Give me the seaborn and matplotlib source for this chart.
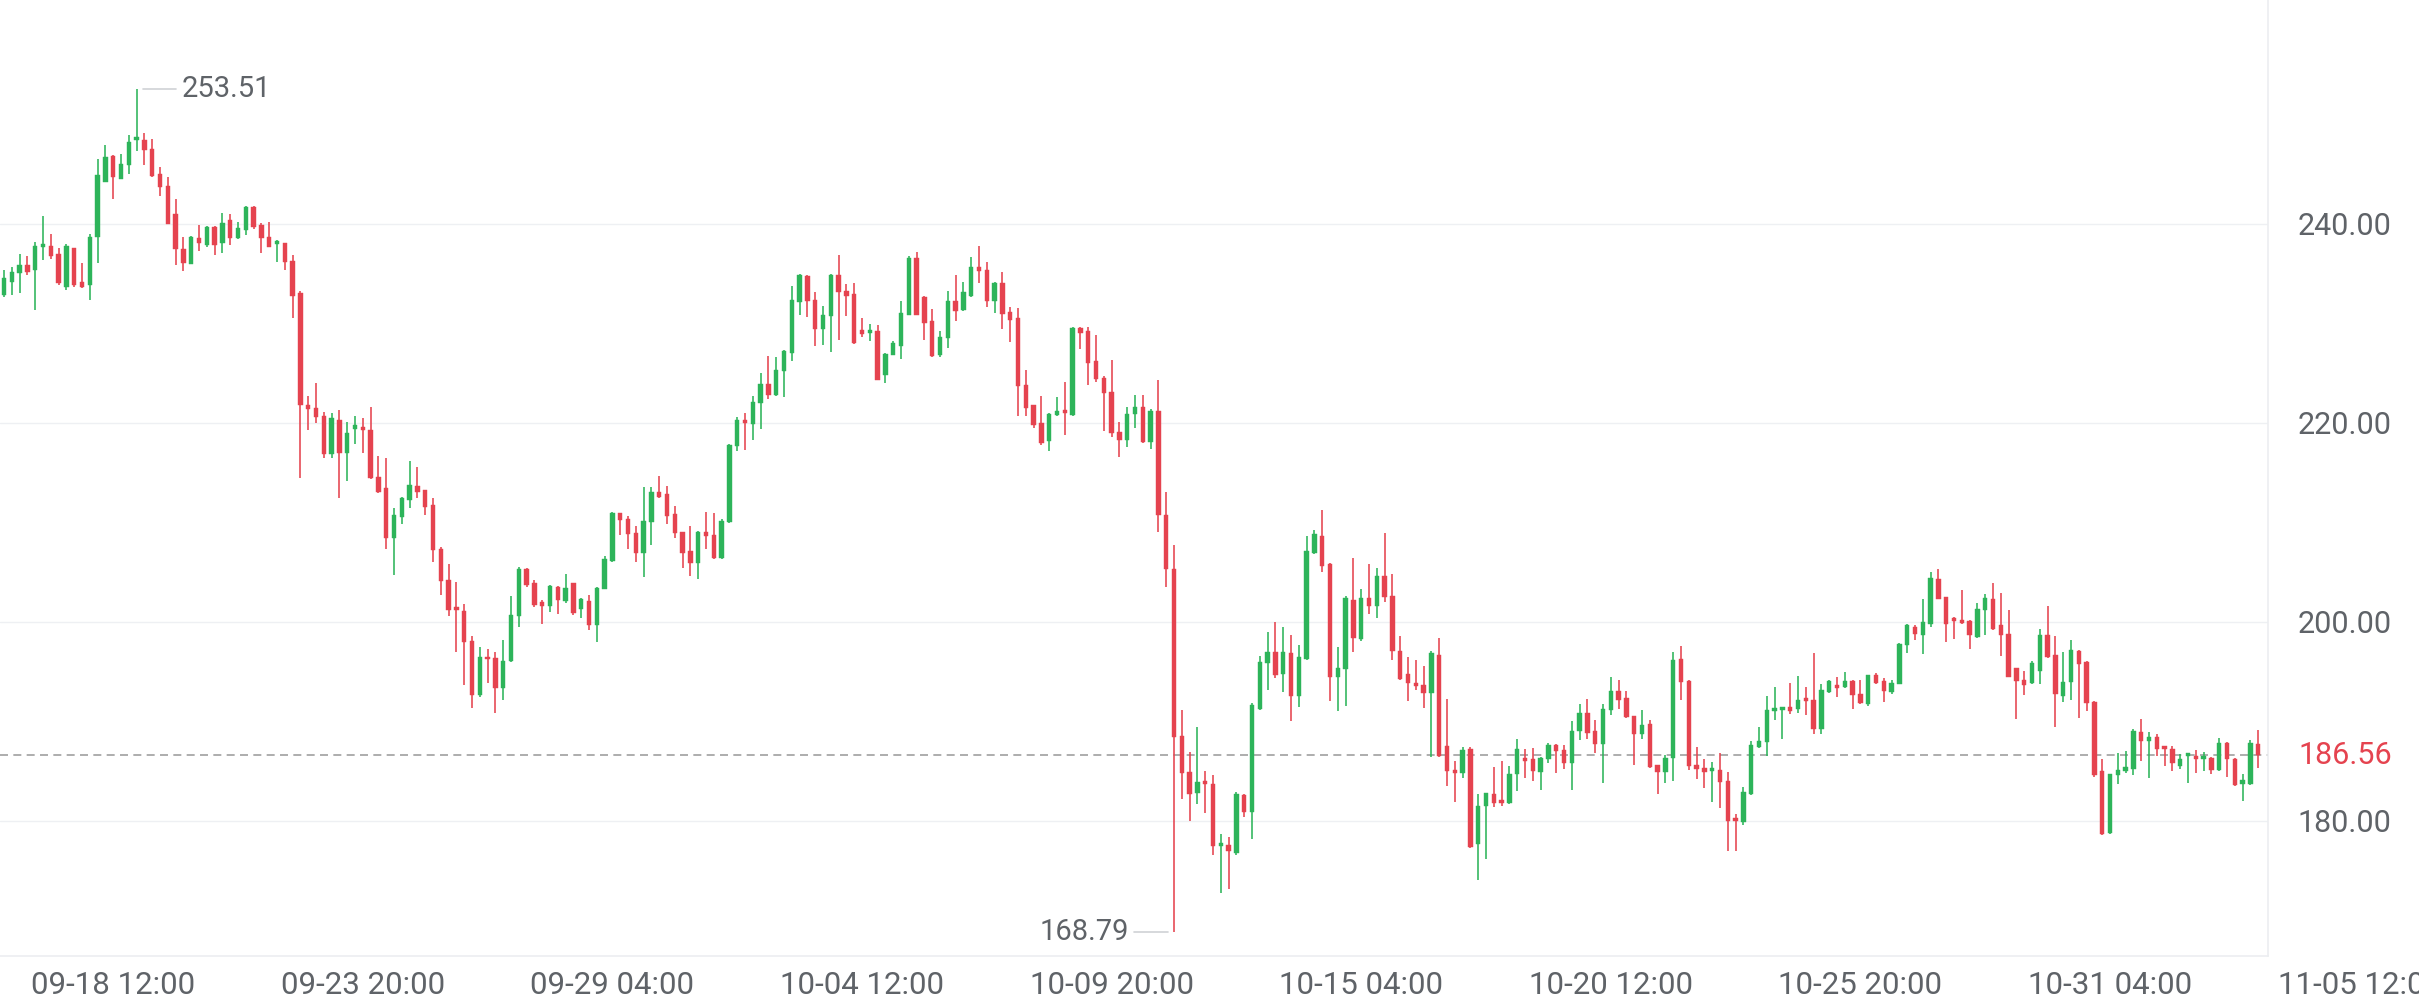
import numpy as np
import pandas as pd
import matplotlib
matplotlib.use("Agg")
import matplotlib.pyplot as plt
import seaborn as sns

# ---------------- data (4h candles) ----------------
start_time = "2024-09-16 04:00"

open_ = [
    232.8, 234.1, 235.0, 235.8, 235.3, 237.7, 237.8, 237.0, 233.6, 237.6,
    234.1, 233.8, 238.7, 244.2, 246.8, 244.5, 245.9, 248.4, 248.4, 247.5,
    245.0, 243.8, 241.0, 237.5, 235.9, 238.6, 237.9, 239.7, 238.1, 240.4,
    238.6, 239.4, 241.7, 239.9, 238.7, 238.0, 238.1, 236.2, 233.0, 221.8,
    221.5, 220.7, 216.9, 220.3, 217.0, 219.4, 219.4, 219.3, 214.5, 213.4,
    208.4, 210.5, 212.2, 213.6, 213.2, 211.7, 207.3, 204.2, 201.3, 201.1,
    198.1, 192.6, 196.5, 196.3, 193.3, 196.0, 200.6, 205.3, 203.9, 202.0,
    201.6, 203.5, 202.1, 203.9, 201.3, 202.1, 199.7, 203.3, 206.1, 210.9,
    210.3, 208.9, 206.9, 210.0, 213.0, 212.8, 210.8, 209.0, 207.1, 205.9,
    209.0, 208.7, 206.4, 210.0, 217.7, 220.3, 219.9, 222.0, 223.9, 222.8,
    225.2, 227.0, 232.1, 234.7, 232.3, 229.4, 230.7, 234.8, 233.2, 232.9,
    229.3, 229.0, 229.2, 224.8, 226.8, 227.7, 230.8, 236.6, 232.6, 230.2,
    226.8, 228.5, 232.2, 231.3, 232.7, 235.6, 235.3, 232.2, 234.0, 231.1,
    230.5, 223.8, 221.8, 220.0, 218.2, 220.8, 221.2, 220.8, 229.5, 229.2,
    226.2, 224.5, 223.1, 219.1, 218.3, 220.9, 221.6, 218.1, 221.2, 210.7,
    205.3, 188.5, 184.9, 182.8, 184.0, 183.7, 177.5, 177.6, 176.8, 182.6,
    180.9, 191.2, 195.8, 197.0, 194.7, 196.9, 192.5, 196.2, 206.9, 208.6,
    205.8, 194.4, 195.2, 202.2, 198.3, 202.4, 201.6, 204.6, 202.6, 197.1,
    194.7, 193.8, 193.6, 192.8, 196.7, 187.5, 185.1, 184.8, 187.2, 177.7,
    181.5, 182.7, 181.9, 181.8, 184.7, 186.3, 186.2, 184.9, 186.2, 187.6,
    187.1, 185.8, 189.0, 190.8, 189.0, 187.7, 191.1, 193.0, 192.3, 190.5,
    188.7, 189.7, 185.6, 184.9, 186.3, 196.2, 194.0, 185.6, 185.3, 185.0,
    185.1, 184.0, 180.3, 179.9, 182.7, 187.4, 187.9, 191.0, 191.1, 191.4,
    191.2, 192.2, 192.1, 189.2, 192.9, 193.6, 193.4, 194.0, 192.7, 191.7,
    194.6, 194.0, 192.9, 193.7, 197.7, 199.5, 198.7, 199.8, 204.3, 202.5,
    200.3, 200.1, 200.1, 198.5, 201.2, 202.3, 199.7, 198.8, 195.3, 194.1,
    193.8, 195.0, 198.7, 196.7, 192.5, 193.9, 197.1, 195.9, 191.9, 185.0,
    178.8, 184.6, 185.0, 185.2, 188.9, 188.0, 188.4, 187.3, 187.2, 185.5,
    186.5, 186.5, 186.2, 186.3, 185.1, 187.8, 186.2, 183.7, 183.7, 187.7,
]

high = [
    235.3, 235.6, 237.0, 236.8, 238.2, 240.8, 239.0, 237.6, 238.0, 237.6,
    236.0, 239.0, 246.5, 247.9, 246.9, 247.0, 248.9, 253.51, 249.1, 248.5,
    245.7, 244.7, 242.5, 238.7, 238.8, 239.9, 239.8, 239.8, 241.1, 241.0,
    240.2, 241.8, 241.8, 240.1, 240.2, 238.4, 238.1, 236.9, 233.2, 222.7,
    224.0, 221.1, 221.0, 221.3, 220.1, 220.7, 220.5, 221.6, 216.7, 216.4,
    211.4, 212.5, 216.1, 215.5, 213.2, 212.4, 207.5, 205.8, 204.0, 201.8,
    198.6, 197.5, 197.3, 197.0, 198.2, 202.6, 205.5, 205.4, 204.2, 202.2,
    203.7, 203.6, 204.8, 203.9, 202.4, 202.7, 203.5, 206.6, 211.0, 210.9,
    210.6, 209.6, 213.5, 213.5, 214.6, 213.6, 211.6, 209.0, 209.6, 209.1,
    211.0, 210.9, 210.3, 217.9, 220.6, 221.0, 222.7, 225.0, 226.7, 226.6,
    227.3, 233.7, 234.9, 234.8, 233.1, 231.7, 234.9, 236.9, 233.9, 234.0,
    230.5, 229.9, 229.8, 227.0, 228.2, 232.2, 236.8, 237.2, 232.7, 231.4,
    229.2, 233.2, 234.8, 234.1, 236.7, 237.8, 236.1, 234.1, 235.1, 231.6,
    231.5, 225.3, 221.8, 222.7, 221.0, 222.6, 224.1, 229.6, 229.6, 229.6,
    228.8, 224.7, 226.3, 220.1, 221.6, 222.8, 222.8, 221.4, 224.3, 213.0,
    207.7, 191.1, 186.9, 189.4, 185.0, 184.6, 178.7, 178.4, 182.9, 182.7,
    191.8, 196.6, 199.0, 200.0, 199.5, 198.7, 197.7, 208.6, 209.2, 211.2,
    205.9, 197.5, 202.6, 206.4, 203.3, 205.8, 205.4, 208.9, 204.8, 198.6,
    196.5, 196.1, 195.5, 197.1, 198.4, 192.2, 186.0, 187.4, 187.4, 182.7,
    182.8, 185.4, 186.0, 185.5, 188.2, 187.2, 187.3, 186.4, 187.8, 187.7,
    187.6, 190.0, 191.7, 192.2, 190.1, 191.7, 194.4, 194.1, 193.0, 190.5,
    191.1, 190.1, 185.6, 186.6, 197.0, 197.6, 194.1, 187.4, 186.2, 185.9,
    186.8, 184.9, 180.7, 183.4, 188.0, 189.4, 192.5, 193.4, 191.4, 193.8,
    194.5, 193.4, 196.9, 193.7, 194.1, 194.4, 194.9, 194.1, 194.1, 194.6,
    194.8, 194.3, 194.1, 197.9, 199.8, 199.7, 202.3, 205.0, 205.3, 202.5,
    200.5, 203.2, 200.2, 201.9, 202.8, 203.9, 202.9, 201.2, 195.3, 195.0,
    196.0, 199.3, 201.6, 198.6, 197.0, 198.2, 197.2, 196.0, 192.0, 186.2,
    184.7, 186.8, 187.0, 189.2, 190.2, 188.9, 188.7, 187.4, 187.5, 186.7,
    186.6, 187.1, 186.9, 186.4, 188.3, 187.9, 186.3, 184.7, 188.1, 189.1,
]

low = [
    232.6, 232.8, 233.0, 234.8, 231.3, 236.3, 236.5, 233.8, 233.3, 233.6,
    233.5, 232.3, 236.0, 244.2, 242.5, 244.5, 245.0, 247.3, 245.9, 244.7,
    242.8, 240.0, 235.8, 235.2, 235.9, 237.3, 237.7, 236.9, 237.1, 237.9,
    238.5, 238.9, 239.5, 237.1, 237.7, 236.1, 235.3, 230.5, 214.4, 219.3,
    220.0, 216.5, 216.5, 212.4, 214.1, 217.9, 217.0, 214.3, 212.9, 207.3,
    204.7, 209.8, 211.4, 212.4, 210.7, 206.0, 202.7, 200.6, 197.0, 193.6,
    191.3, 192.4, 193.8, 190.8, 192.1, 195.9, 199.5, 203.5, 201.5, 199.8,
    201.0, 200.8, 201.9, 200.7, 200.4, 199.2, 198.0, 203.3, 206.0, 208.7,
    207.3, 206.0, 204.5, 207.7, 212.4, 209.8, 208.4, 205.4, 204.6, 204.3,
    207.3, 206.3, 206.3, 209.9, 217.2, 217.3, 218.3, 219.4, 222.4, 222.7,
    222.6, 226.2, 230.8, 230.6, 227.7, 227.8, 227.1, 228.3, 230.7, 227.9,
    228.6, 228.2, 224.3, 224.0, 226.8, 226.4, 230.8, 230.8, 228.3, 226.6,
    226.6, 227.5, 230.2, 231.2, 232.6, 234.0, 231.6, 231.0, 229.4, 228.1,
    220.7, 220.7, 219.5, 217.8, 217.2, 220.7, 218.8, 220.7, 227.4, 223.8,
    224.1, 219.2, 218.6, 216.6, 217.6, 219.5, 218.0, 217.4, 209.0, 203.5,
    168.79, 182.2, 180.0, 181.7, 180.8, 176.6, 172.7, 173.1, 176.6, 180.4,
    178.2, 191.1, 193.1, 194.3, 192.9, 190.0, 191.4, 196.1, 206.8, 205.0,
    192.0, 191.0, 191.5, 197.0, 198.1, 200.8, 200.4, 202.0, 196.1, 194.1,
    192.0, 193.1, 191.3, 186.4, 186.4, 183.5, 181.9, 184.3, 177.3, 174.0,
    176.1, 181.4, 181.5, 181.7, 183.0, 184.3, 184.0, 183.1, 185.8, 184.8,
    185.2, 183.1, 188.1, 188.2, 186.8, 183.8, 190.6, 191.2, 190.3, 185.6,
    188.2, 185.3, 182.7, 183.8, 184.0, 192.1, 185.1, 184.2, 183.3, 181.9,
    181.3, 177.0, 177.0, 179.6, 182.6, 187.3, 186.5, 190.1, 188.2, 190.7,
    190.8, 190.6, 188.7, 188.7, 192.8, 192.4, 193.3, 191.2, 191.7, 191.5,
    193.7, 191.9, 192.7, 193.7, 196.9, 198.2, 196.8, 199.5, 202.3, 198.0,
    198.3, 199.8, 197.3, 198.4, 198.7, 199.2, 196.6, 194.4, 190.2, 192.6,
    193.7, 193.7, 196.3, 189.4, 191.9, 192.1, 190.3, 191.0, 184.4, 178.6,
    178.7, 183.7, 184.8, 184.6, 186.0, 184.3, 186.5, 185.5, 185.0, 185.2,
    183.8, 184.8, 185.0, 184.7, 185.0, 184.4, 183.5, 182.0, 183.6, 185.3,
]

close_ = [
    234.5, 235.1, 235.8, 235.1, 237.8, 237.8, 236.8, 234.0, 237.8, 233.8,
    233.6, 238.7, 244.9, 246.7, 244.7, 246.0, 248.2, 248.5, 247.4, 244.8,
    243.7, 240.0, 237.5, 236.0, 238.7, 238.1, 239.7, 237.9, 240.1, 238.6,
    239.6, 241.7, 239.7, 238.6, 237.7, 238.1, 236.1, 232.7, 221.8, 221.4,
    220.6, 216.9, 220.5, 217.0, 219.0, 219.8, 219.3, 214.4, 213.0, 208.4,
    210.7, 212.4, 213.7, 213.0, 211.5, 207.2, 204.1, 201.2, 201.2, 198.0,
    192.6, 196.5, 196.2, 193.3, 196.0, 200.7, 205.3, 203.7, 201.7, 201.6,
    203.6, 202.2, 203.4, 200.9, 202.3, 199.7, 203.4, 206.3, 210.9, 210.2,
    208.8, 206.9, 210.1, 213.0, 212.5, 210.6, 208.9, 206.9, 205.9, 209.0,
    208.6, 206.4, 210.1, 217.8, 220.3, 220.0, 222.1, 223.9, 222.8, 225.3,
    227.2, 232.3, 234.8, 232.2, 229.4, 230.8, 234.8, 233.1, 232.7, 228.0,
    228.9, 229.2, 224.3, 226.9, 228.0, 231.0, 236.6, 230.8, 230.0, 226.7,
    228.6, 232.2, 231.2, 233.1, 235.6, 235.2, 232.2, 234.0, 230.9, 230.3,
    223.7, 221.5, 219.8, 218.0, 220.9, 221.2, 221.0, 229.5, 229.0, 226.0,
    224.4, 223.0, 219.0, 218.3, 220.9, 221.6, 218.1, 221.2, 210.7, 205.3,
    188.4, 184.8, 182.7, 183.9, 183.7, 177.5, 177.6, 177.0, 182.7, 180.9,
    191.6, 195.9, 197.0, 194.6, 197.0, 192.5, 196.5, 207.1, 208.8, 205.6,
    194.4, 195.3, 202.4, 198.4, 202.4, 201.6, 204.6, 202.5, 197.1, 194.2,
    193.8, 193.5, 192.8, 196.9, 186.5, 185.0, 184.8, 187.1, 177.4, 181.5,
    182.8, 181.8, 181.8, 184.7, 187.2, 186.0, 185.0, 186.3, 187.6, 187.0,
    185.8, 189.0, 190.8, 188.8, 187.7, 191.2, 193.0, 192.1, 190.4, 188.7,
    189.6, 185.4, 184.9, 186.3, 196.1, 193.9, 185.5, 185.2, 184.9, 185.2,
    183.9, 180.0, 180.0, 182.9, 187.6, 188.0, 191.1, 191.2, 191.3, 191.0,
    192.1, 192.0, 189.2, 193.1, 194.0, 193.3, 194.0, 192.6, 191.8, 194.6,
    193.8, 193.0, 193.8, 197.8, 199.7, 198.8, 200.0, 204.4, 202.3, 199.8,
    200.1, 199.9, 198.7, 201.3, 202.4, 199.3, 198.7, 194.4, 194.0, 193.6,
    195.8, 198.7, 196.5, 192.7, 193.9, 197.2, 195.7, 191.8, 184.6, 178.7,
    184.7, 185.1, 185.4, 189.0, 188.0, 188.4, 187.2, 187.2, 185.8, 186.2,
    186.6, 186.2, 186.4, 185.1, 187.8, 186.2, 183.6, 184.1, 187.8, 186.56,
]

x_tick_labels = ["09-18 12:00", "09-23 20:00", "09-29 04:00", "10-04 12:00",
                 "10-09 20:00", "10-15 04:00", "10-20 12:00", "10-25 20:00",
                 "10-31 04:00", "11-05 12:00"]
y_ticks = [180, 200, 220, 240]

# ---------------- style ----------------
sns.set_theme(style="white")
plt.rcParams['font.family'] = ['Roboto', 'DejaVu Sans']

UP = "#2db45a"
DOWN = "#e5434f"
TXT = "#5f6368"

times = pd.date_range(start_time, periods=len(close_), freq="4h")
df = pd.DataFrame({"time": times, "open": open_, "high": high,
                   "low": low, "close": close_})
df["idx"] = np.arange(len(df))
df["up"] = df["close"] >= df["open"]
df["color"] = np.where(df["up"], UP, DOWN)
df["body_lo"] = df[["open", "close"]].min(axis=1)
df["body_h"] = (df["open"] - df["close"]).abs().clip(lower=0.3)

W, H = 2419, 1008
fig = plt.figure(figsize=(W / 100, H / 100), dpi=100)
ax = fig.add_axes([0, 1 - 956 / H, 2268 / W, 956 / H])

# grid lines
for y in y_ticks:
    ax.axhline(y, color="#eef0f3", lw=1.0, zorder=0)

# wicks and bodies
ax.vlines(df["idx"], df["low"], df["high"], colors=df["color"], lw=1.15, zorder=2)
ax.bar(df["idx"], df["body_h"], bottom=df["body_lo"], width=0.58,
       color=df["color"], edgecolor=df["color"], linewidth=0.3, zorder=3)

# last price dashed line
last = close_[-1]
ax.axhline(last, color="#a0a0a0", lw=1.2, linestyle=(0, (4.8, 3.2)), zorder=1)

# extremes annotations
imax = int(np.argmax(high))
imin = int(np.argmin(low))
hmax, lmin = high[imax], low[imin]
ax.plot([imax + 0.8, imax + 5.1], [hmax, hmax], color="#cfd2d6", lw=1.2, zorder=1)
ax.text(imax + 5.8, hmax, f"{hmax:.2f}", ha="left", va="center",
        fontsize=21, color=TXT)
ax.plot([imin - 0.8, imin - 5.1], [lmin, lmin], color="#cfd2d6", lw=1.2, zorder=1)
ax.text(imin - 5.8, lmin, f"{lmin:.2f}", ha="right", va="center",
        fontsize=21, color=TXT)

# x ticks
t0 = pd.Timestamp(start_time)
tick_pos = [(pd.Timestamp(f"{t0.year}-{lab}") - t0) / pd.Timedelta("4h")
            for lab in x_tick_labels]
XLIM = (-0.513, 290.26)
inside = [(p, l) for p, l in zip(tick_pos, x_tick_labels) if XLIM[0] <= p <= XLIM[1]]
outside = [(p, l) for p, l in zip(tick_pos, x_tick_labels) if not (XLIM[0] <= p <= XLIM[1])]
ax.set_xticks([p for p, _ in inside])
ax.set_xticklabels([l for _, l in inside])
ax.tick_params(axis="x", length=0, pad=11, labelsize=22.5, labelcolor=TXT)

# y ticks on the right
ax.yaxis.tick_right()
ax.set_yticks(y_ticks)
ax.set_yticklabels([f"{v:.2f}" for v in y_ticks])
ax.tick_params(axis="y", length=0, pad=21, labelsize=22, labelcolor=TXT)

# axes limits
ax.set_xlim(*XLIM)
ax.set_ylim(166.40, 262.48)

# tick labels beyond the last candle (cut by the figure edge)
for p, l in outside:
    ax.annotate(l, xy=(p, 0), xycoords=("data", "axes fraction"),
                xytext=(0, -11), textcoords="offset points", ha="center",
                va="top", fontsize=22.5, color=TXT, annotation_clip=False)

# last price label
ax.annotate(f"{last:.2f}", xy=(1.0, last), xycoords=("axes fraction", "data"),
            xytext=(21.6, 0), textcoords="offset points", ha="left",
            va="center", fontsize=22, color=DOWN)

for s in ["top", "left"]:
    ax.spines[s].set_visible(False)
for s in ["bottom", "right"]:
    ax.spines[s].set_color("#eceef1")
    ax.spines[s].set_linewidth(1.2)

ax.grid(False)
fig.savefig("out.png", dpi=100, facecolor="white")
